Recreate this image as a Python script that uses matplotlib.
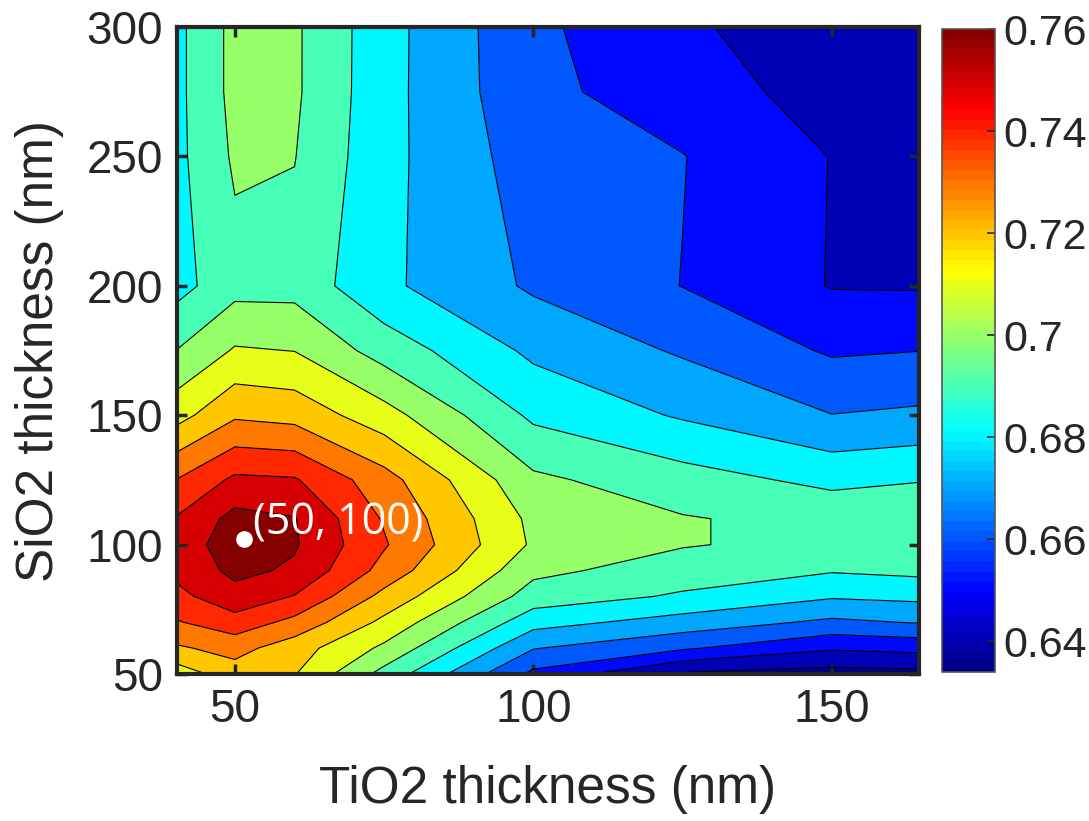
import numpy as np
import matplotlib
matplotlib.use('Agg')
import matplotlib.pyplot as plt
from matplotlib.colors import Normalize, ListedColormap
from matplotlib.cm import ScalarMappable

plt.rcParams['font.family'] = ['Liberation Sans', 'DejaVu Sans']

# grid of the map (nm)
tio2 = [40, 50, 60, 75, 100, 125, 150, 165]
sio2 = [50, 60, 70, 80, 90, 100, 110, 125, 150, 175, 200, 250, 275, 300]

# values, one row per SiO2 thickness
z_rows = [
    [0.7140, 0.7255, 0.7205, 0.6965, 0.6575, 0.6385, 0.6360, 0.6370],  # 50
    [0.7285, 0.7335, 0.7245, 0.7080, 0.6705, 0.6613, 0.6511, 0.6529],  # 60
    [0.7390, 0.7460, 0.7370, 0.7175, 0.6838, 0.6758, 0.6680, 0.6707],  # 70
    [0.7470, 0.7565, 0.7495, 0.7270, 0.6955, 0.6887, 0.6811, 0.6825],  # 80
    [0.7525, 0.7625, 0.7585, 0.7365, 0.7025, 0.6951, 0.6908, 0.6925],  # 90
    [0.7550, 0.7645, 0.7610, 0.7410, 0.7085, 0.7007, 0.6970, 0.6955],  # 100
    [0.7505, 0.7632, 0.7605, 0.7390, 0.7075, 0.7007, 0.6970, 0.6950],  # 110
    [0.7400, 0.7520, 0.7510, 0.7340, 0.7020, 0.6942, 0.6874, 0.6897],  # 125
    [0.7160, 0.7285, 0.7265, 0.7140, 0.6880, 0.6789, 0.6702, 0.6718],  # 150
    [0.6999, 0.7110, 0.7098, 0.6957, 0.6779, 0.6688, 0.6588, 0.6599],  # 175
    [0.6862, 0.6965, 0.6965, 0.6820, 0.6685, 0.6598, 0.6495, 0.6492],  # 200
    [0.6870, 0.7015, 0.7003, 0.6830, 0.6650, 0.6603, 0.6497, 0.6440],  # 250
    [0.6870, 0.7030, 0.7015, 0.6834, 0.6625, 0.6549, 0.6460, 0.6430],  # 275
    [0.6870, 0.7030, 0.7015, 0.6836, 0.6620, 0.6519, 0.6430, 0.6420],  # 300
]

levels = [0.64, 0.65, 0.66, 0.67, 0.68, 0.69, 0.70, 0.71, 0.72, 0.73, 0.74, 0.75, 0.76]
cbar_ticks = [0.64, 0.66, 0.68, 0.70, 0.72, 0.74, 0.76]
cbar_labels = ['0.64', '0.66', '0.68', '0.7', '0.72', '0.74', '0.76']
clim = (0.634, 0.76)

X, Y = np.meshgrid(tio2, sio2)
Z = np.array(z_rows)

# matlab's jet(64)
t = (np.arange(64) + 0.5) / 64
r = np.clip(np.minimum(4*t - 1.5, -4*t + 4.5), 0, 1)
g = np.clip(np.minimum(4*t - 0.5, -4*t + 3.5), 0, 1)
b = np.clip(np.minimum(4*t + 0.5, -4*t + 2.5), 0, 1)
cmap = ListedColormap(np.column_stack([r, g, b]))
norm = Normalize(*clim)

fig = plt.figure(figsize=(10.89, 8.21), dpi=100)
ax = fig.add_axes([0.1625, 0.179, 0.6814, 0.788])
cax = fig.add_axes([0.865, 0.1815, 0.0487, 0.783])

# matlab style: each band takes the colour of its lower level
band_colors = [cmap(norm(clim[0]))] + [cmap(norm(l)) for l in levels]
fill_levels = [0.60] + levels + [0.80]
ax.contourf(X, Y, Z, levels=fill_levels, colors=band_colors)
ax.contour(X, Y, Z, levels=levels, colors='k', linewidths=0.8)

# optimum point
ax.plot(51.5, 102, 'o', color='white', markersize=11)
ax.text(53, 104, '(50, 100)', color='white', fontsize=31,
        family=['Open Sans', 'DejaVu Sans'])

ax.set_xlim(40.3, 164.6)
ax.set_ylim(50, 300)
ax.set_xticks([50, 100, 150])
ax.set_yticks([50, 100, 150, 200, 250, 300])
ax.tick_params(direction='in', length=7, width=2.5, labelsize=33,
               colors='#262626', top=True, right=True, pad=10)
for s in ax.spines.values():
    s.set_linewidth(3)
    s.set_color('#262626')
ax.set_xlabel('TiO2 thickness (nm)', fontsize=37, color='#262626', labelpad=24)
ax.set_ylabel('SiO2 thickness (nm)', fontsize=37, color='#262626', labelpad=16)

sm = ScalarMappable(norm=norm, cmap=cmap)
cb = fig.colorbar(sm, cax=cax, ticks=cbar_ticks)
cb.ax.set_yticklabels(cbar_labels)
cb.ax.tick_params(direction='in', length=6, width=1.2, labelsize=31,
                  colors='#262626', pad=6)
cb.outline.set_linewidth(1.2)
cb.outline.set_edgecolor('#555555')

fig.savefig('out.png', dpi=100)
